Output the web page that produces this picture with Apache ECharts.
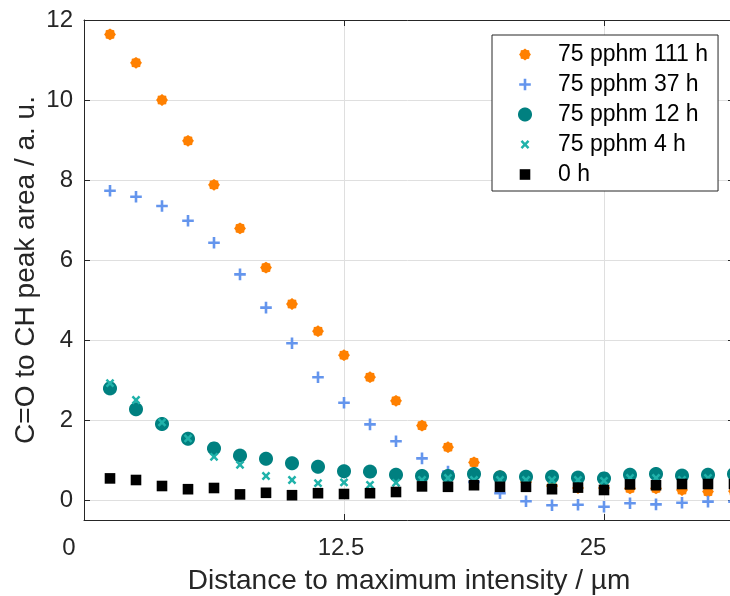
<!DOCTYPE html>
<html>
<head>
<meta charset="utf-8">
<script src="https://cdn.jsdelivr.net/npm/echarts@6/dist/echarts.min.js"></script>
<style>html,body{margin:0;padding:0;background:#fff}#c{width:730px;height:596px}</style>
</head>
<body>
<div id="c"></div>
<script>
// ---- data ----
const xValues = [1.25, 2.5, 3.75, 5, 6.25, 7.5, 8.75, 10, 11.25, 12.5, 13.75, 15, 16.25, 17.5, 18.75, 20, 21.25, 22.5, 23.75, 25, 26.25, 27.5, 28.75, 30, 31.25];
const y111h = [11.64, 10.93, 10.0, 8.98, 7.88, 6.79, 5.81, 4.90, 4.22, 3.62, 3.07, 2.48, 1.86, 1.32, 0.94, 0.61, 0.45, 0.35, 0.30, 0.30, 0.29, 0.29, 0.25, 0.21, 0.22];
const y37h  = [7.73, 7.58, 7.35, 6.98, 6.43, 5.64, 4.81, 3.92, 3.07, 2.43, 1.89, 1.47, 1.04, 0.71, 0.45, 0.17, -0.03, -0.13, -0.12, -0.17, -0.08, -0.11, -0.07, -0.04, -0.04];
const y12h  = [2.79, 2.27, 1.90, 1.53, 1.29, 1.11, 1.03, 0.92, 0.83, 0.72, 0.71, 0.63, 0.60, 0.60, 0.65, 0.57, 0.58, 0.58, 0.56, 0.54, 0.63, 0.65, 0.61, 0.63, 0.65];
const y4h   = [2.92, 2.50, 1.94, 1.54, 1.08, 0.88, 0.60, 0.50, 0.42, 0.44, 0.38, 0.43, 0.50, 0.55, 0.50, 0.50, 0.50, 0.50, 0.50, 0.48, 0.55, 0.55, 0.50, 0.55, 0.55];
const y0h   = [0.54, 0.50, 0.35, 0.27, 0.30, 0.14, 0.18, 0.12, 0.17, 0.15, 0.17, 0.20, 0.34, 0.33, 0.37, 0.33, 0.33, 0.27, 0.31, 0.25, 0.39, 0.37, 0.40, 0.40, 0.40];
const seriesNames = ['75 pphm 111 h', '75 pphm 37 h', '75 pphm 12 h', '75 pphm 4 h', '0 h'];
const xTickLabels = ['0', '12.5', '25'];
const xTitle = 'Distance to maximum intensity / \u00b5m';
const yTitle = 'C=O to CH peak area / a. u.';

// ---- marker shapes (in a 100x100 box, 6.25 units per px at symbolSize 16) ----
const SC = 6.25;
function poly(pts) {
  return pts.map((p, i) => (i ? 'L' : 'M') + (50 + p[0]).toFixed(2) + ' ' + (50 + p[1]).toFixed(2)).join(' ') + ' Z';
}
function boxed(p) { return 'path://M0 0 M100 100 ' + p; }
function circlePath(r) {
  const pts = [];
  for (let i = 0; i < 48; i++) { const a = i / 48 * Math.PI * 2; pts.push([r * Math.cos(a), r * Math.sin(a)]); }
  return poly(pts);
}
function starPath(ro, ri, n) {
  const pts = [];
  for (let i = 0; i < 2 * n; i++) {
    const a = -Math.PI / 2 + i * Math.PI / n;
    const r = i % 2 ? ri : ro;
    pts.push([r * Math.cos(a), r * Math.sin(a)]);
  }
  return poly(pts);
}
function plusPts(L, t) {
  return [[-t,-L],[t,-L],[t,-t],[L,-t],[L,t],[t,t],[t,L],[-t,L],[-t,t],[-L,t],[-L,-t],[-t,-t]];
}
function rot45(pts) {
  const c = Math.SQRT1_2;
  return pts.map(p => [(p[0] - p[1]) * c, (p[0] + p[1]) * c]);
}
const symStar = boxed(starPath(5.9 * SC, 4.9 * SC, 8));
const symPlus = boxed(poly(plusPts(5.8 * SC, 1.3 * SC)));
const symCircle = boxed(circlePath(7 * SC));
const symX = boxed(poly(rot45(plusPts(5.0 * SC, 1.25 * SC))));
const symSquare = boxed(poly([[-5.3*SC,-5.3*SC],[5.3*SC,-5.3*SC],[5.3*SC,5.3*SC],[-5.3*SC,5.3*SC]]));

const FONT = "'Liberation Sans', Arial, Helvetica, sans-serif";
const AX = '#262626';
const GRID = '#dfdfdf';

function mk(name, ys, sym, color) {
  return {
    type: 'scatter', name: name,
    data: xValues.map((x, i) => [x, ys[i]]),
    symbol: sym, symbolSize: 16,
    itemStyle: { color: color, opacity: 1 },
    emphasis: { disabled: true },
    clip: false
  };
}

const chart = echarts.init(document.getElementById('c'), null, { renderer: 'canvas' });
chart.setOption({
  animation: false,
  backgroundColor: '#fff',
  textStyle: { fontFamily: FONT },
  grid: { left: 84, top: 20, width: 650, height: 500, containLabel: false, outerBoundsMode: 'none' },
  xAxis: [{
    type: 'value', position: 'bottom', min: 0, max: 31.25, interval: 12.5,
    axisLine: { show: true, onZero: false, lineStyle: { color: AX, width: 1 } },
    axisTick: { show: true, inside: true, length: 6, lineStyle: { color: AX, width: 1 } },
    splitLine: { show: true, lineStyle: { color: GRID, width: 1 } },
    axisLabel: {
      show: true, margin: 16, color: AX, fontSize: 24, fontFamily: FONT, showMaxLabel: false,
      formatter: function (v) {
        const idx = Math.round(v / 12.5);
        const key = ['a', 'b', 'c'][idx] || 'b';
        return '{' + key + '|' + (xTickLabels[idx] || '') + '}';
      },
      rich: {
        a: { fontSize: 24, color: AX, fontFamily: FONT, padding: [0, 30, 0, 0] },
        b: { fontSize: 24, color: AX, fontFamily: FONT, padding: [0, 6, 0, 0] },
        c: { fontSize: 24, color: AX, fontFamily: FONT, padding: [0, 22, 0, 0] }
      }
    },
    name: xTitle, nameLocation: 'middle', nameGap: 47, nameMoveOverlap: false,
    nameTextStyle: { fontSize: 28, color: AX, fontFamily: FONT }
  }, {
    type: 'value', position: 'top', min: 0, max: 31.25, interval: 12.5,
    axisLine: { show: true, onZero: false, lineStyle: { color: AX, width: 1 } },
    axisTick: { show: true, inside: true, length: 6, lineStyle: { color: AX, width: 1 } },
    splitLine: { show: false },
    axisLabel: { show: false }
  }],
  yAxis: [{
    type: 'value', position: 'left', min: -0.5, max: 12, splitNumber: 6,
    axisLine: { show: true, onZero: false, lineStyle: { color: AX, width: 1 } },
    axisTick: { show: true, inside: true, length: 6, lineStyle: { color: AX, width: 1 } },
    splitLine: { show: true, lineStyle: { color: GRID, width: 1 } },
    axisLabel: { show: true, margin: 11, color: AX, fontSize: 24, fontFamily: FONT, showMinLabel: false },
    name: yTitle, nameLocation: 'middle', nameGap: 44, nameRotate: 90, nameMoveOverlap: false,
    nameTextStyle: { fontSize: 28, color: AX, fontFamily: FONT }
  }, {
    type: 'value', position: 'right', min: -0.5, max: 12, splitNumber: 6,
    axisLine: { show: true, onZero: false, lineStyle: { color: AX, width: 1 } },
    axisTick: { show: true, inside: true, length: 6, lineStyle: { color: AX, width: 1 } },
    splitLine: { show: false },
    axisLabel: { show: false }
  }],
  legend: {
    orient: 'vertical', left: 492, top: 35,
    itemWidth: 56, itemHeight: 16, itemGap: 7,
    padding: [8, 10, 5, 25],
    backgroundColor: '#fff', borderColor: AX, borderWidth: 1, borderRadius: 0,
    textStyle: { fontSize: 23, lineHeight: 23, color: '#000', fontFamily: FONT },
    selectedMode: false,
    data: seriesNames
  },
  series: [
    mk(seriesNames[0], y111h, symStar, '#FF8000'),
    mk(seriesNames[1], y37h, symPlus, '#6495ED'),
    mk(seriesNames[2], y12h, symCircle, '#008080'),
    mk(seriesNames[3], y4h, symX, '#20B2AA'),
    mk(seriesNames[4], y0h, symSquare, '#000000')
  ]
});
</script>
</body>
</html>
